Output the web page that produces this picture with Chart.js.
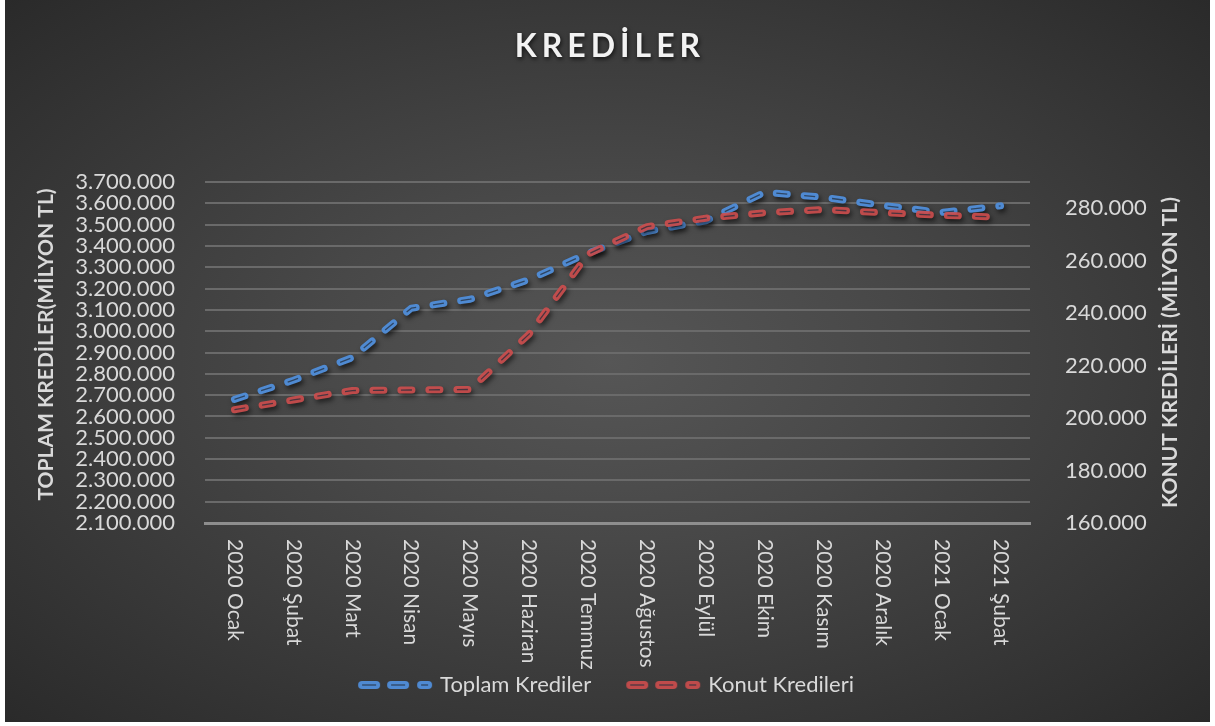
<!DOCTYPE html>
<html>
<head>
<meta charset="utf-8">
<script src="https://cdn.jsdelivr.net/npm/chart.js@4.4.1/dist/chart.umd.min.js"></script>
<style>
  html, body { margin: 0; padding: 0; background: #ffffff; }
  #wrap { position: absolute; left: 5px; top: 0; width: 1205px; height: 722px;
    background: radial-gradient(ellipse farthest-corner at 50% 50%, #565656 0%, #484848 35%, #2a2a2a 100%); }
  canvas { display: block; }
</style>
</head>
<body>
<div id="wrap"><canvas id="c" width="1205" height="722"></canvas></div>
<script>
const categories = ['2020 Ocak','2020 Şubat','2020 Mart','2020 Nisan','2020 Mayıs','2020 Haziran','2020 Temmuz','2020 Ağustos','2020 Eylül','2020 Ekim','2020 Kasım','2020 Aralık','2021 Ocak','2021 Şubat'];
const toplamKrediler = [2680000, 2770000, 2876000, 3108000, 3150000, 3242000, 3366000, 3468000, 3518000, 3652000, 3628000, 3590000, 3557000, 3588000];
const konutKredileri = [203200, 206900, 210500, 210700, 210900, 232000, 262500, 273000, 276200, 278300, 279500, 278300, 277300, 276600];
const leftTicks = [2100000,2200000,2300000,2400000,2500000,2600000,2700000,2800000,2900000,3000000,3100000,3200000,3300000,3400000,3500000,3600000,3700000];
const rightTicks = [160000,180000,200000,220000,240000,260000,280000];
const seriesNames = ['Toplam Krediler', 'Konut Kredileri'];
const chartTitle = 'KREDİLER';
const leftTitle = 'TOPLAM KREDİLER(MİLYON TL)';
const rightTitle = 'KONUT KREDİLERİ (MİLYON TL)';

const BLUE = '#4f8ad2';
const RED = 'rgba(206,78,78,0.9)';
const STRIPE = 'rgba(35,45,60,0.75)';
const FONT = 'Lato, "Open Sans", sans-serif';

function fmt(v) { return String(Math.round(v)).replace(/\B(?=(\d{3})+(?!\d))/g, '.'); }

function legendIcon(color) {
  const c = document.createElement('canvas');
  c.width = 76; c.height = 10;
  const g = c.getContext('2d');
  const pills = [[1, 22], [30, 22], [60, 15]];
  pills.forEach(([x, w]) => {
    g.fillStyle = color;
    g.beginPath();
    g.roundRect(x, 1, w, 8, 4);
    g.fill();
    g.strokeStyle = STRIPE;
    g.lineWidth = 1.3;
    g.beginPath();
    g.moveTo(x + 4, 5); g.lineTo(x + w - 4, 5);
    g.stroke();
  });
  return c;
}

const shadowPlugin = {
  id: 'shadow',
  beforeDatasetDraw(chart, args) {
    const ds = chart.data.datasets[args.index];
    chart.ctx.save();
    if (!ds.isStripe) {
      chart.ctx.shadowColor = 'rgba(0,0,0,0.6)';
      chart.ctx.shadowBlur = 5;
      chart.ctx.shadowOffsetX = 2;
      chart.ctx.shadowOffsetY = 3;
    }
  },
  afterDatasetDraw(chart) { chart.ctx.restore(); }
};

const textPlugin = {
  id: 'texts',
  beforeDraw(chart) {
    const ctx = chart.ctx;
    ctx.save();
    ctx.font = 'bold 32px ' + FONT;
    ctx.letterSpacing = '5px';
    ctx.fillStyle = '#f2f2f2';
    ctx.textAlign = 'center';
    ctx.textBaseline = 'middle';
    ctx.shadowColor = 'rgba(0,0,0,0.7)';
    ctx.shadowBlur = 4; ctx.shadowOffsetX = 1; ctx.shadowOffsetY = 2;
    ctx.fillText(chartTitle, chart.width / 2 + 2.5, 47);
    ctx.restore();
  },
  afterDraw(chart) {
    const ctx = chart.ctx;
    const x = chart.scales.x, y = chart.scales.y, y1 = chart.scales.y1;
    const ca = chart.chartArea;
    const midY = (ca.top + ca.bottom) / 2;
    ctx.save();
    ctx.fillStyle = '#d9d9d9';
    ctx.font = '21px ' + FONT;
    ctx.textAlign = 'left';
    ctx.textBaseline = 'middle';
    categories.forEach((lab, i) => {
      const px = x.getPixelForTick(i);
      ctx.save();
      ctx.translate(px, x.top + 16);
      ctx.rotate(Math.PI / 2);
      ctx.fillText(lab, 0, 0);
      ctx.restore();
    });
    ctx.font = 'bold 21px ' + FONT;
    ctx.textAlign = 'center';
    ctx.save();
    ctx.translate(y.left + 41, midY - 8);
    ctx.rotate(-Math.PI / 2);
    ctx.fillText(leftTitle, 0, 0);
    ctx.restore();
    ctx.save();
    ctx.translate(y1.left + 140, midY);
    ctx.rotate(-Math.PI / 2);
    ctx.fillText(rightTitle, 0, 0);
    ctx.restore();
    ctx.restore();
  }
};

const lineCommon = { borderWidth: 7, borderDash: [11, 17], borderCapStyle: 'round', borderJoinStyle: 'round', pointRadius: 0, pointHoverRadius: 0, fill: false, tension: 0 };
const stripeCommon = { borderWidth: 1.3, borderDash: [11, 17], borderCapStyle: 'butt', borderJoinStyle: 'round', pointRadius: 0, pointHoverRadius: 0, fill: false, tension: 0, isStripe: true, borderColor: STRIPE };

new Chart(document.getElementById('c'), {
  type: 'line',
  data: {
    labels: categories,
    datasets: [
      Object.assign({ label: seriesNames[0], data: toplamKrediler, borderColor: BLUE, backgroundColor: BLUE, yAxisID: 'y', order: 4, pointStyle: legendIcon(BLUE) }, lineCommon),
      Object.assign({ label: seriesNames[1], data: konutKredileri, borderColor: RED, backgroundColor: RED, yAxisID: 'y1', order: 2, pointStyle: legendIcon(RED) }, lineCommon),
      Object.assign({ label: 's1', data: toplamKrediler, yAxisID: 'y', order: 3 }, stripeCommon),
      Object.assign({ label: 's2', data: konutKredileri, yAxisID: 'y1', order: 1 }, stripeCommon)
    ]
  },
  options: {
    responsive: false,
    animation: false,
    events: [],
    layout: { padding: { top: 182, left: 0, right: 0, bottom: 16 } },
    plugins: {
      title: { display: false },
      tooltip: { enabled: false },
      legend: {
        position: 'bottom',
        labels: {
          usePointStyle: true,
          pointStyleWidth: 68,
          boxHeight: 10,
          color: '#d9d9d9',
          font: { family: FONT, size: 22 },
          padding: 38,
          sort: (a, b) => a.datasetIndex - b.datasetIndex,
          filter: (item, data) => !data.datasets[item.datasetIndex].isStripe
        }
      }
    },
    scales: {
      x: {
        offset: true,
        grid: { display: false, drawTicks: false },
        border: { display: true, color: '#8e8e8e', width: 3 },
        ticks: { display: false },
        afterFit: (s) => { s.height = 113; }
      },
      y: {
        position: 'left',
        min: 2100000, max: 3700000,
        afterBuildTicks: (s) => { s.ticks = leftTicks.map(v => ({ value: v })); },
        grid: { color: '#6a6a6a', lineWidth: 2, drawTicks: false },
        border: { display: false },
        ticks: { color: '#d9d9d9', font: { family: FONT, size: 22, lineHeight: 1 }, padding: 30, autoSkip: false, callback: (v) => fmt(v) },
        afterFit: (s) => { s.width = 200; }
      },
      y1: {
        position: 'right',
        min: 160000, max: 290000,
        afterBuildTicks: (s) => { s.ticks = rightTicks.map(v => ({ value: v })); },
        grid: { display: false, drawOnChartArea: false, drawTicks: false },
        border: { display: false },
        ticks: { color: '#d9d9d9', font: { family: FONT, size: 22, lineHeight: 1 }, padding: 35, autoSkip: false, callback: (v) => fmt(v) },
        afterFit: (s) => { s.width = 180; }
      }
    }
  },
  plugins: [shadowPlugin, textPlugin]
});
</script>
</body>
</html>
